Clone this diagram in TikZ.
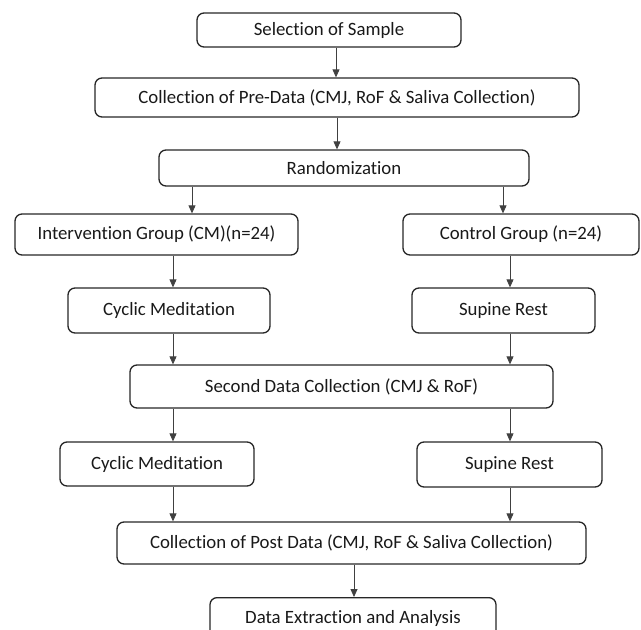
\documentclass[tikz,border=0pt]{standalone}
\usepackage{fontspec}
\setmainfont{Carlito}[Ligatures=CommonOff]
\usetikzlibrary{arrows.meta}
\begin{document}
\begin{tikzpicture}[x=1pt,y=-1pt,
  box/.style={draw=black!85, line width=1.3pt, rounded corners=7pt, inner sep=0pt, font=\fontsize{18.8}{22}\selectfont, text=black!90},
  arr/.style={draw=black!75, line width=0.8pt, -{Triangle[length=8pt,width=7pt]}}]
\useasboundingbox (0,0) rectangle (641,630);
\clip (0,0) rectangle (641,630);
\newcommand{\bx}[6]{\node[box, minimum width=#4-#3, minimum height=#6-#5] (#1) at ({(#3+#4)/2},{(#5+#6)/2}) {#2};}
\bx{sel}{Selection of Sample}{197}{461}{13}{47}
\bx{pre}{Collection of Pre-Data (CMJ, RoF \& Saliva Collection)}{95}{579}{78}{117}
\bx{rand}{Randomization}{159}{529}{150}{186}
\bx{int}{Intervention Group (CM)(n=24)}{15}{298}{214}{255}
\bx{ctl}{Control Group (n=24)}{403}{639}{214}{255}
\bx{cyc}{Cyclic Meditation}{68}{270}{288}{333}
\bx{sup}{Supine Rest}{412}{595}{288}{333}
\bx{sec}{Second Data Collection (CMJ \& RoF)}{130}{553}{365}{408}
\bx{cyctwo}{Cyclic Meditation}{60}{254}{442}{486}
\bx{suptwo}{Supine Rest}{417}{602}{442}{487}
\bx{post}{Collection of Post Data (CMJ, RoF \& Saliva Collection)}{117}{586}{522}{564}
\node[box, minimum width=286, minimum height=42, anchor=north] (ext) at (353,597) {Data Extraction and Analysis};
\draw[arr] (sel.south -| 336,0) -- (pre.north -| 336,0);
\draw[arr] (pre.south -| 337,0) -- (rand.north -| 337,0);
\draw[arr] (rand.south -| 192,0) -- (int.north -| 192,0);
\draw[arr] (rand.south -| 503,0) -- (ctl.north -| 503,0);
\draw[arr] (int.south -| 173,0) -- (cyc.north -| 173,0);
\draw[arr] (ctl.south -| 510,0) -- (sup.north -| 510,0);
\draw[arr] (cyc.south -| 173,0) -- (sec.north -| 173,0);
\draw[arr] (sup.south -| 510,0) -- (sec.north -| 510,0);
\draw[arr] (sec.south -| 173,0) -- (cyctwo.north -| 173,0);
\draw[arr] (sec.south -| 510,0) -- (suptwo.north -| 510,0);
\draw[arr] (cyctwo.south -| 173,0) -- (post.north -| 173,0);
\draw[arr] (suptwo.south -| 510,0) -- (post.north -| 510,0);
\draw[arr] (post.south -| 354,0) -- (ext.north -| 354,0);
\end{tikzpicture}
\end{document}
